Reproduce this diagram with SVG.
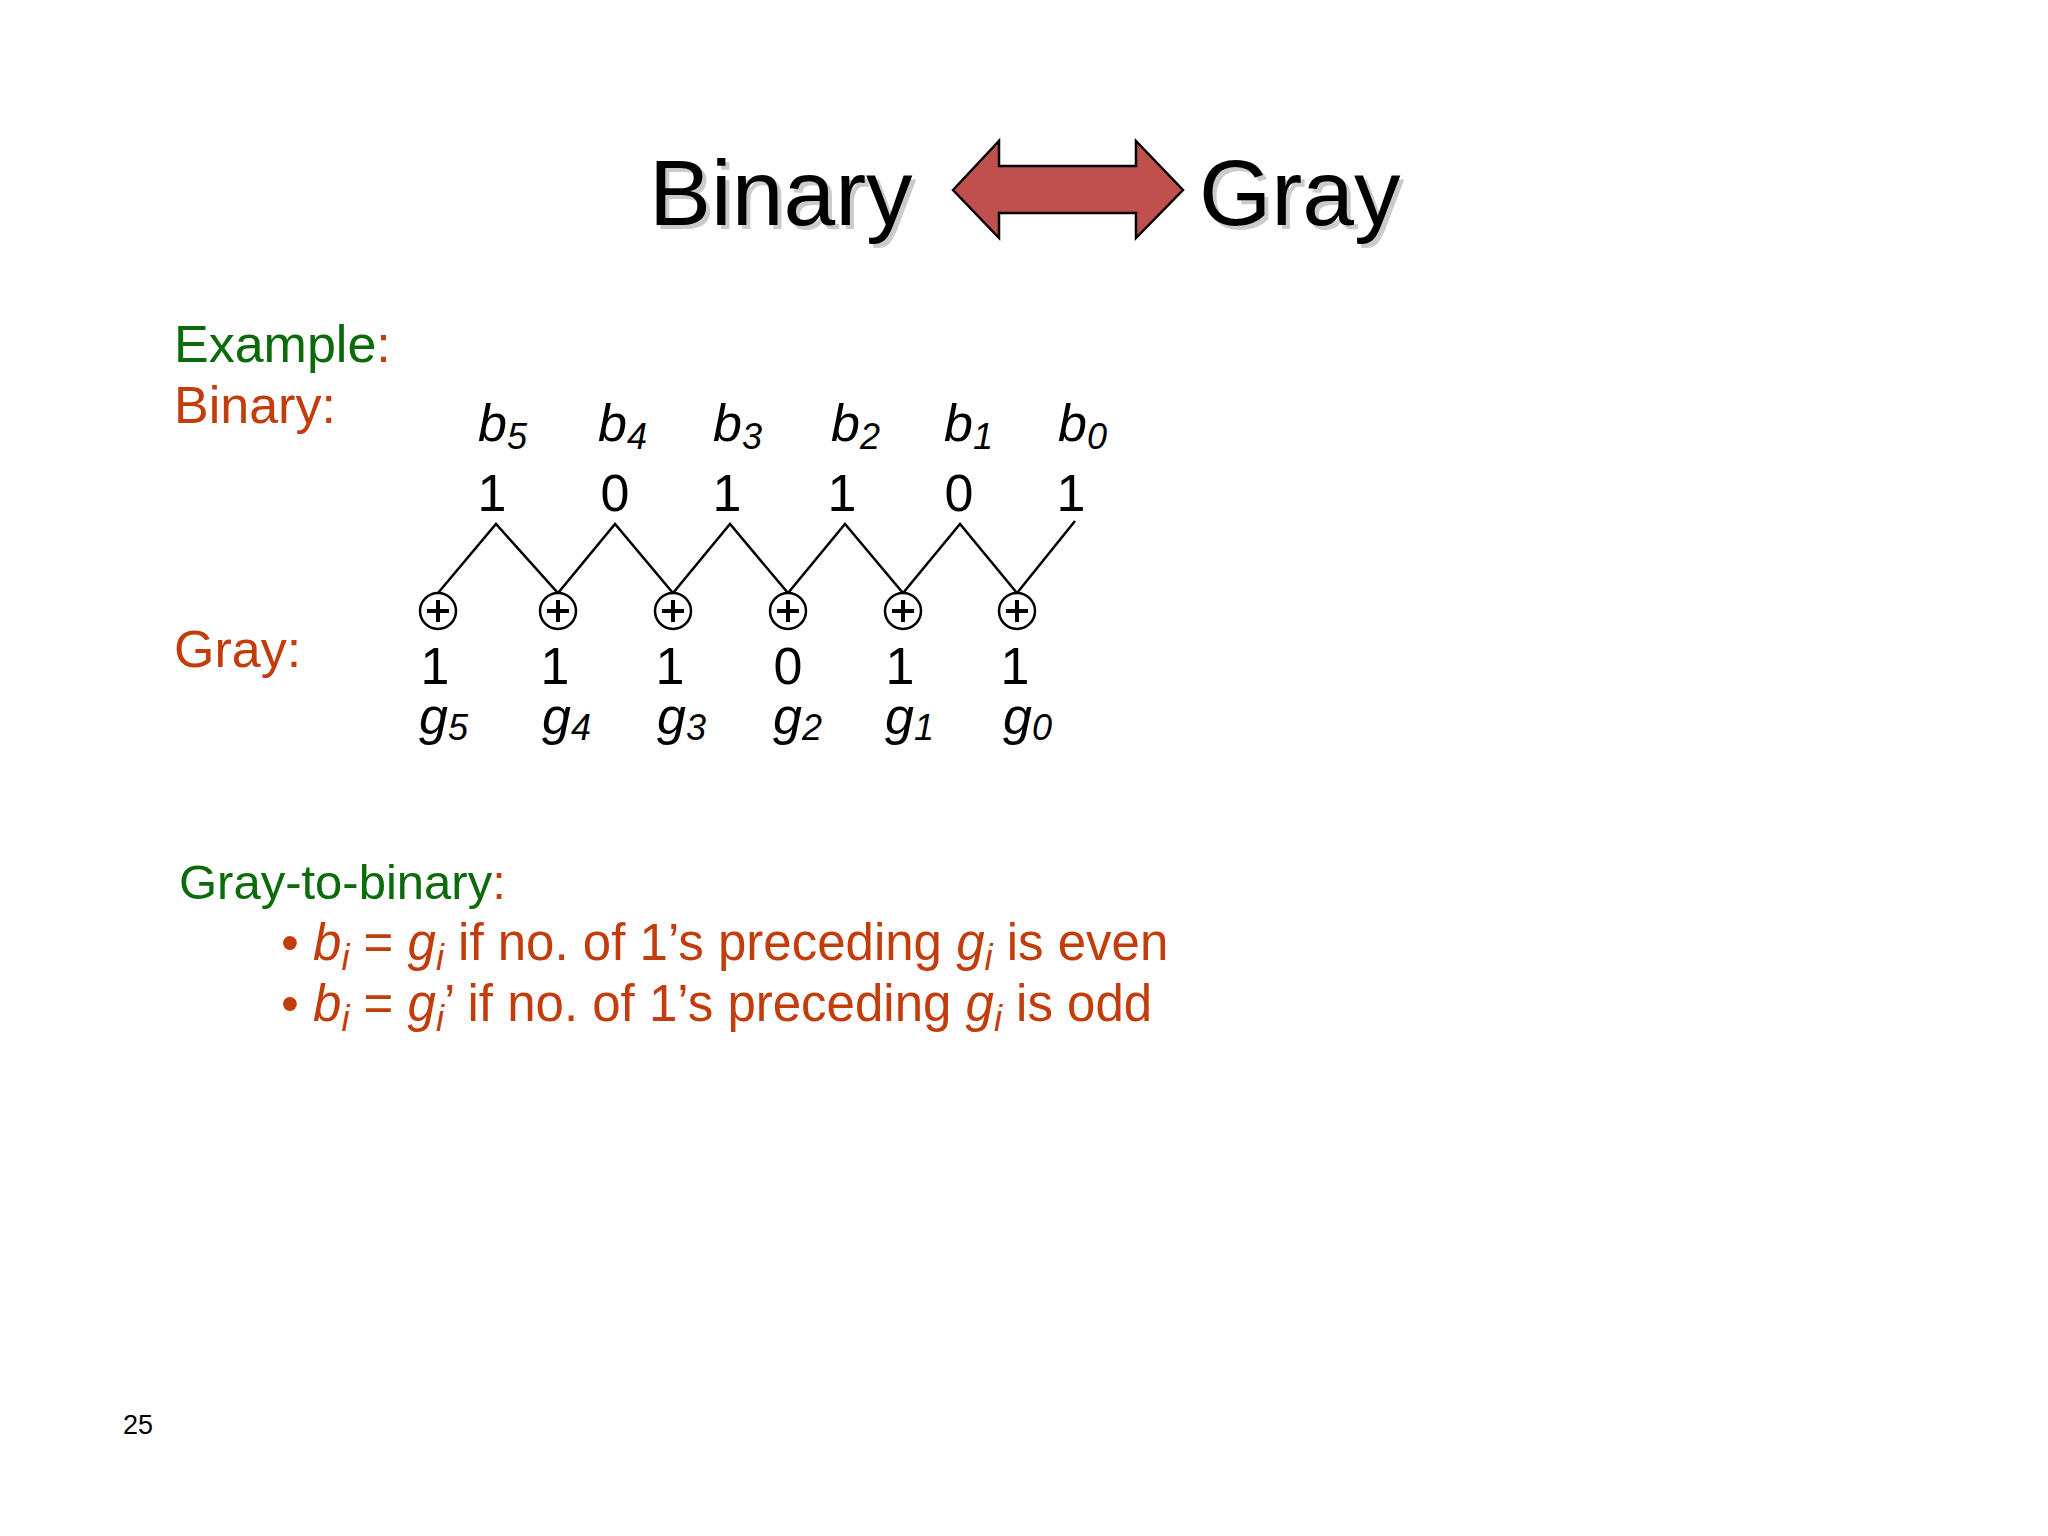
<svg xmlns="http://www.w3.org/2000/svg" width="2048" height="1536" viewBox="0 0 2048 1536">
<style>
text{font-family:"Liberation Sans",Arial,sans-serif}
.t{font-size:93px;fill:#000}
.sh{font-size:93px;fill:#999;opacity:.5}
.lab{font-size:52px}
.g{fill:#0b6b0b}
.o{fill:#c23c0c}
.v{font-size:52px;fill:#000;text-anchor:middle}
.it{font-size:52px;font-style:italic;fill:#000}
.sub{font-size:36px}
.bl{font-size:51px;fill:#c23c0c}
.x{fill:#fff;stroke:#000;stroke-width:2.5}
.w{stroke:#000;stroke-width:2.5;fill:none}
.p{stroke:#000;stroke-width:4;fill:none}
</style>
<rect width="2048" height="1536" fill="#fff"/>
<g id="title">
<text class="sh" x="653" y="229">Binary</text>
<text class="t" x="649" y="225">Binary</text>
<text class="sh" x="1203" y="229">Gray</text>
<text class="t" x="1199" y="225">Gray</text>
<polygon points="953,190 999,141 999,166 1136,166 1136,141 1183,190 1136,238 1136,213 999,213 999,238" fill="#c0504d" stroke="#000" stroke-width="2.5"/>
</g>
<g id="labels">
<text class="lab g" x="174" y="362">Example<tspan class="o">:</tspan></text>
<text class="lab o" x="174" y="423">Binary:</text>
<text class="lab o" x="174" y="667">Gray:</text>
</g>
<g id="binary">
<text class="it" x="478" y="441">b<tspan class="sub" dy="8">5</tspan></text>
<text class="it" x="598" y="441">b<tspan class="sub" dy="8">4</tspan></text>
<text class="it" x="713" y="441">b<tspan class="sub" dy="8">3</tspan></text>
<text class="it" x="831" y="441">b<tspan class="sub" dy="8">2</tspan></text>
<text class="it" x="944" y="441">b<tspan class="sub" dy="8">1</tspan></text>
<text class="it" x="1058" y="441">b<tspan class="sub" dy="8">0</tspan></text>
<text class="v" x="492" y="511">1</text>
<text class="v" x="615" y="511">0</text>
<text class="v" x="727" y="511">1</text>
<text class="v" x="842" y="511">1</text>
<text class="v" x="959" y="511">0</text>
<text class="v" x="1071" y="511">1</text>
</g>
<g id="connectors">
<polyline class="w" points="438,593 496,524 558,593 615,524 673,593 730,524 788,593 845,524 903,593 960,524 1017,593 1075,521"/>
</g>
<g id="xors">
<g id="x5"><circle class="x" cx="438" cy="611" r="18"/><path class="p" d="M427,611h22M438,600v22"/></g>
<g id="x4"><circle class="x" cx="558" cy="611" r="18"/><path class="p" d="M547,611h22M558,600v22"/></g>
<g id="x3"><circle class="x" cx="673" cy="611" r="18"/><path class="p" d="M662,611h22M673,600v22"/></g>
<g id="x2"><circle class="x" cx="788" cy="611" r="18"/><path class="p" d="M777,611h22M788,600v22"/></g>
<g id="x1"><circle class="x" cx="903" cy="611" r="18"/><path class="p" d="M892,611h22M903,600v22"/></g>
<g id="x0"><circle class="x" cx="1017" cy="611" r="18"/><path class="p" d="M1006,611h22M1017,600v22"/></g>
</g>
<g id="gray">
<text class="v" x="435" y="684">1</text>
<text class="v" x="555" y="684">1</text>
<text class="v" x="670" y="684">1</text>
<text class="v" x="788" y="684">0</text>
<text class="v" x="900" y="684">1</text>
<text class="v" x="1015" y="684">1</text>
<text class="it" x="419" y="734">g<tspan class="sub" dy="6">5</tspan></text>
<text class="it" x="542" y="734">g<tspan class="sub" dy="6">4</tspan></text>
<text class="it" x="657" y="734">g<tspan class="sub" dy="6">3</tspan></text>
<text class="it" x="773" y="734">g<tspan class="sub" dy="6">2</tspan></text>
<text class="it" x="885" y="734">g<tspan class="sub" dy="6">1</tspan></text>
<text class="it" x="1003" y="734">g<tspan class="sub" dy="6">0</tspan></text>
</g>
<g id="rules">
<text class="g" x="179" y="899" font-size="49">Gray-to-binary<tspan class="o">:</tspan></text>
<text class="bl" x="281" y="960">• <tspan font-style="italic">b</tspan><tspan font-style="italic" class="sub" dy="10">i</tspan><tspan dy="-10"> = </tspan><tspan font-style="italic">g</tspan><tspan font-style="italic" class="sub" dy="10">i</tspan><tspan dy="-10"> if no. of 1’s preceding </tspan><tspan font-style="italic">g</tspan><tspan font-style="italic" class="sub" dy="10">i</tspan><tspan dy="-10"> is even</tspan></text>
<text class="bl" x="281" y="1021">• <tspan font-style="italic">b</tspan><tspan font-style="italic" class="sub" dy="10">i</tspan><tspan dy="-10"> = </tspan><tspan font-style="italic">g</tspan><tspan font-style="italic" class="sub" dy="10">i</tspan><tspan dy="-10">’ if no. of 1’s preceding </tspan><tspan font-style="italic">g</tspan><tspan font-style="italic" class="sub" dy="10">i</tspan><tspan dy="-10"> is odd</tspan></text>
</g>
<text x="123" y="1434" font-size="27" fill="#000">25</text>
</svg>
